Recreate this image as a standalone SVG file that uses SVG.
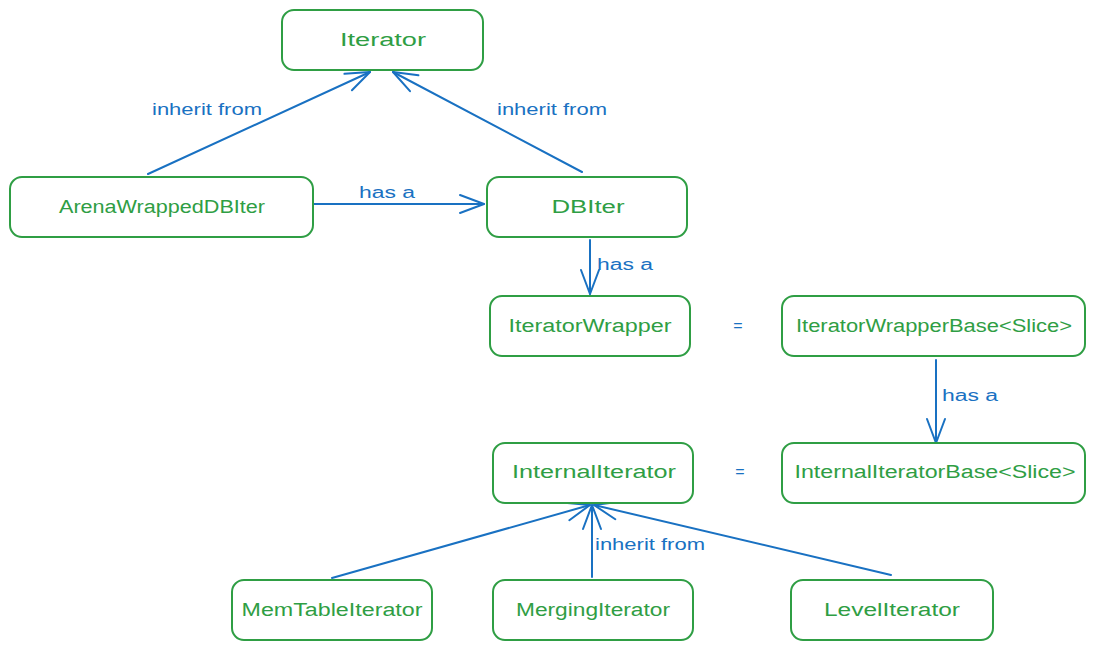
<svg xmlns="http://www.w3.org/2000/svg" width="1095" height="650" viewBox="0 0 1095 650">
<defs>
<style>
.box{fill:#fff;stroke:#2f9e44;stroke-width:2}
.t{font-family:"Liberation Sans","Noto Sans",sans-serif;font-size:18px;fill:#2f9e44;text-anchor:middle}
.lbl{font-family:"Liberation Sans","Noto Sans",sans-serif;font-size:16px;fill:#1971c2;text-anchor:middle}
.c{fill:none;stroke:#1971c2;stroke-width:2;stroke-linecap:round}
</style>
<marker id="ah" markerUnits="userSpaceOnUse" viewBox="-26 -12 30 24" refX="0" refY="0" markerWidth="30" markerHeight="24" orient="auto">
<path d="M-24,-9 L0,0 L-24,9" fill="none" stroke="#1971c2" stroke-width="2" stroke-linecap="round" stroke-linejoin="round"/>
</marker>
</defs>
<rect width="1095" height="650" fill="#fff"/>
<g id="connectors">
<path class="c" d="M148,174 L370,72" marker-end="url(#ah)"/>
<path class="c" d="M582,172 L393,72" marker-end="url(#ah)"/>
<path class="c" d="M314,204 L484,204" marker-end="url(#ah)"/>
<path class="c" d="M590,240 L590,294" marker-end="url(#ah)"/>
<path class="c" d="M936,360 L936,443" marker-end="url(#ah)"/>
<path class="c" d="M332,578 L590,505" marker-end="url(#ah)"/>
<path class="c" d="M592,577 L592,505" marker-end="url(#ah)"/>
<path class="c" d="M891,575 L594,505" marker-end="url(#ah)"/>
<text class="lbl" x="207" y="115" textLength="110" lengthAdjust="spacingAndGlyphs">inherit from</text>
<text class="lbl" x="552" y="115" textLength="110" lengthAdjust="spacingAndGlyphs">inherit from</text>
<text class="lbl" x="387" y="198" textLength="56" lengthAdjust="spacingAndGlyphs">has a</text>
<text class="lbl" x="625" y="270" textLength="56" lengthAdjust="spacingAndGlyphs">has a</text>
<text class="lbl" x="970" y="401" textLength="56" lengthAdjust="spacingAndGlyphs">has a</text>
<text class="lbl" x="650" y="550" textLength="110" lengthAdjust="spacingAndGlyphs">inherit from</text>
<text class="lbl" x="738" y="331">=</text>
<text class="lbl" x="740" y="477">=</text>
</g>
<g id="n-iterator"><rect class="box" x="282" y="10" width="201" height="60" rx="12"/><text class="t" x="383" y="46" textLength="86" lengthAdjust="spacingAndGlyphs">Iterator</text></g>
<g id="n-arena"><rect class="box" x="10" y="177" width="303" height="60" rx="12"/><text class="t" x="162" y="213" textLength="206" lengthAdjust="spacingAndGlyphs">ArenaWrappedDBIter</text></g>
<g id="n-dbiter"><rect class="box" x="487" y="177" width="200" height="60" rx="12"/><text class="t" x="588" y="213" textLength="73" lengthAdjust="spacingAndGlyphs">DBIter</text></g>
<g id="n-itwrapper"><rect class="box" x="490" y="296" width="200" height="60" rx="12"/><text class="t" x="590" y="332" textLength="163" lengthAdjust="spacingAndGlyphs">IteratorWrapper</text></g>
<g id="n-itwrapperbase"><rect class="box" x="782" y="296" width="303" height="60" rx="12"/><text class="t" x="934" y="332" textLength="276" lengthAdjust="spacingAndGlyphs">IteratorWrapperBase&lt;Slice&gt;</text></g>
<g id="n-internal"><rect class="box" x="493" y="443" width="200" height="60" rx="12"/><text class="t" x="594" y="478" textLength="164" lengthAdjust="spacingAndGlyphs">InternalIterator</text></g>
<g id="n-internalbase"><rect class="box" x="782" y="443" width="303" height="60" rx="12"/><text class="t" x="935" y="478" textLength="281" lengthAdjust="spacingAndGlyphs">InternalIteratorBase&lt;Slice&gt;</text></g>
<g id="n-memtable"><rect class="box" x="232" y="580" width="200" height="60" rx="12"/><text class="t" x="332" y="616" textLength="181" lengthAdjust="spacingAndGlyphs">MemTableIterator</text></g>
<g id="n-merging"><rect class="box" x="493" y="580" width="200" height="60" rx="12"/><text class="t" x="593" y="616" textLength="154" lengthAdjust="spacingAndGlyphs">MergingIterator</text></g>
<g id="n-level"><rect class="box" x="791" y="580" width="202" height="60" rx="12"/><text class="t" x="892" y="616" textLength="136" lengthAdjust="spacingAndGlyphs">LevelIterator</text></g>
</svg>
